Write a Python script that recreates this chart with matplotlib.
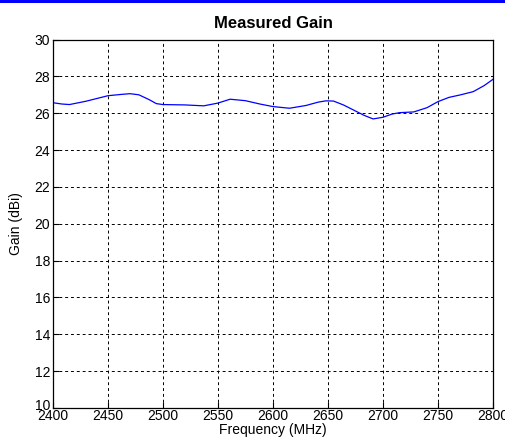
import matplotlib.pyplot as plt
import matplotlib.transforms as mtransforms
from matplotlib.patches import Rectangle

plt.rcParams['font.family'] = ['Liberation Sans', 'DejaVu Sans']

freq = [2400, 2408, 2415, 2430, 2450, 2462, 2470, 2478, 2487, 2494, 2500,
        2520, 2537, 2550, 2561, 2575, 2588, 2600, 2615, 2630, 2641, 2648,
        2655, 2664, 2673, 2683, 2691, 2700, 2708, 2715, 2728, 2740, 2750,
        2760, 2770, 2782, 2792, 2800]
gain = [26.57, 26.5, 26.47, 26.65, 26.95, 27.02, 27.06, 27.0, 26.75, 26.52,
        26.47, 26.45, 26.4, 26.55, 26.76, 26.68, 26.5, 26.36, 26.27, 26.42,
        26.6, 26.67, 26.66, 26.45, 26.18, 25.88, 25.69, 25.78, 25.95, 26.03,
        26.07, 26.3, 26.63, 26.86, 26.99, 27.17, 27.5, 27.84]

xticks = [2400, 2450, 2500, 2550, 2600, 2650, 2700, 2750, 2800]
yticks = [10, 12, 14, 16, 18, 20, 22, 24, 26, 28, 30]

fig = plt.figure(figsize=(5.06, 4.47), dpi=100)
fig.add_artist(Rectangle((0, 0.994), 1, 0.006, transform=fig.transFigure,
                         color='#0000ff', lw=0))
ax = fig.add_axes([0.1047, 0.0872, 0.8696, 0.8244])
ax.plot(freq, gain, color='#0000ff', lw=0.9)
ax.set_xlim(2400, 2800)
ax.set_ylim(10, 30)
ax.set_xticks(xticks)
ax.set_yticks(yticks)
ax.grid(True, color='black', linestyle=(0, (3, 3)), lw=0.7)
ax.tick_params(direction='in', length=4, labelsize=10, pad=2)
ax.tick_params(axis='x', pad=1)
for s in ax.spines.values():
    s.set_linewidth(0.9)
# lift the lowest y label a little, as in the original
lbl = ax.get_yticklabels()[0]
lbl.set_transform(lbl.get_transform() +
                  mtransforms.ScaledTranslation(0, 4 / 100, fig.dpi_scale_trans))
ax.set_title('Measured Gain', fontsize=12, fontweight='bold', pad=8)
ax.set_xlabel('Frequency (MHz)', fontsize=10, labelpad=0)
ax.set_ylabel('Gain (dBi)', fontsize=10, labelpad=8)
fig.savefig('out.png', dpi=100)
